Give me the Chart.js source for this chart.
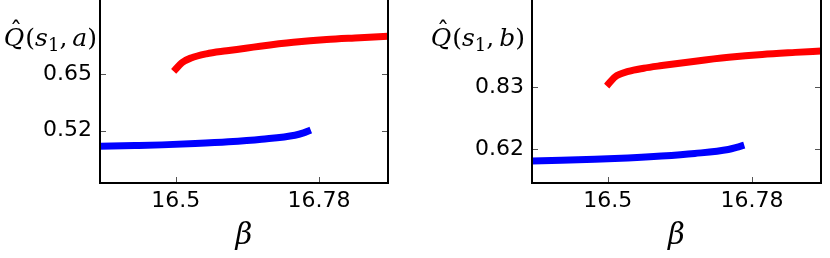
<!DOCTYPE html>
<html>
<head>
<meta charset="utf-8">
<script src="https://cdn.jsdelivr.net/npm/chart.js@4"></script>
<style>
    body { margin: 0; background: #fff; width: 830px; height: 258px; position: relative; overflow: hidden; }
    .panel { position: absolute; top: 0; width: 415px; height: 258px; }
</style>
</head>
<body>
<div class="panel" style="left:0"><canvas id="chartA" width="415" height="258"></canvas></div>
<div class="panel" style="left:415px"><canvas id="chartB" width="415" height="258"></canvas></div>
<script>
// values
const xTicks = [16.5, 16.78];
const yTicksA = [0.52, 0.65];
const yTicksB = [0.62, 0.83];

// left panel, Q(s1, a)
const betaRedA = [16.496, 16.512, 16.53, 16.56, 16.60, 16.665, 16.73, 16.795, 16.86, 16.915];
const qRedA = [0.656, 0.676, 0.687, 0.6965, 0.7035, 0.714, 0.723, 0.7295, 0.7335, 0.737];
const betaBlueA = [16.352, 16.42, 16.473, 16.538, 16.603, 16.668, 16.733, 16.75, 16.764];
const qBlueA = [0.4845, 0.486, 0.4875, 0.4905, 0.4945, 0.5005, 0.5095, 0.515, 0.5215];

// right panel, Q(s1, b)
const betaRedB = [16.498, 16.514, 16.54, 16.57, 16.605, 16.67, 16.735, 16.80, 16.864, 16.915];
const qRedB = [0.835, 0.866, 0.885, 0.896, 0.905, 0.920, 0.933, 0.943, 0.950, 0.955];
const betaBlueB = [16.353, 16.41, 16.475, 16.539, 16.604, 16.669, 16.734, 16.75, 16.765];
const qBlueB = [0.579, 0.581, 0.5845, 0.589, 0.5955, 0.6045, 0.618, 0.625, 0.633];

const toPoints = (xs, ys) => xs.map((x, i) => ({ x: x, y: ys[i] }));

// draws Q-hat(s_1, letter) as the y label, right edge at `right`
function drawQLabel(ctx, right, base, letter) {
    const size = 25;
    const it = 'italic ' + size + 'px "DejaVu Serif"';
    const up = size + 'px "DejaVu Serif"';
    const sub = Math.round(size * 0.7) + 'px "DejaVu Serif"';
    const parts = [
        { t: 'Q', f: it, dy: 0, gap: 1 },
        { t: '(', f: up, dy: 0, gap: 0 },
        { t: 's', f: it, dy: 0, gap: 0 },
        { t: '1', f: sub, dy: 5, gap: 0 },
        { t: ',', f: up, dy: 0, gap: 5 },
        { t: letter, f: it, dy: 0, gap: 0 },
        { t: ')', f: up, dy: 0, gap: 0 }
    ];
    let w = 0;
    parts.forEach(p => { ctx.font = p.f; p.w = ctx.measureText(p.t).width; w += p.w + p.gap; });
    let x = right - w;
    ctx.fillStyle = '#000';
    ctx.textBaseline = 'alphabetic';
    ctx.textAlign = 'left';
    parts.forEach((p, i) => {
        ctx.font = p.f;
        ctx.fillText(p.t, x, base + p.dy);
        if (i === 0) {
            ctx.font = up;
            ctx.textAlign = 'center';
            ctx.fillText('\u02C6', x + p.w / 2 + 2, base - 7);
            ctx.textAlign = 'left';
        }
        x += p.w + p.gap;
    });
}

// matplotlib-like spines and inward ticks
const axesPlugin = {
    id: 'axesPlugin',
    afterDatasetsDraw(chart, args, opts) {
        const ctx = chart.ctx;
        const a = chart.chartArea;
        const xs = chart.scales.x, ys = chart.scales.y;
        ctx.save();
        ctx.strokeStyle = '#555';
        ctx.lineWidth = 1;
        ctx.beginPath();
        ys.ticks.forEach(t => {
            const py = Math.round(ys.getPixelForValue(t.value)) + 0.5;
            ctx.moveTo(a.left, py); ctx.lineTo(a.left + 6, py);
            ctx.moveTo(a.right, py); ctx.lineTo(a.right - 6, py);
        });
        xs.ticks.forEach(t => {
            const px = Math.round(xs.getPixelForValue(t.value)) + 0.5;
            ctx.moveTo(px, a.bottom); ctx.lineTo(px, a.bottom - 6);
        });
        ctx.stroke();
        ctx.strokeStyle = '#000';
        ctx.lineWidth = 2;
        ctx.beginPath();
        ctx.moveTo(a.left, a.top); ctx.lineTo(a.left, a.bottom);
        ctx.lineTo(a.right, a.bottom); ctx.lineTo(a.right, a.top);
        ctx.stroke();
        drawQLabel(ctx, opts.labelRight, 46, opts.letter);
        ctx.restore();
    }
};

function makeChart(id, cfg) {
    const ctx = document.getElementById(id).getContext('2d');
    new Chart(ctx, {
        type: 'line',
        data: {
            datasets: [
                { data: toPoints(cfg.betaRed, cfg.qRed), borderColor: '#ff0000' },
                { data: toPoints(cfg.betaBlue, cfg.qBlue), borderColor: '#0000ff' }
            ]
        },
        options: {
            responsive: false,
            animation: false,
            devicePixelRatio: 1,
            layout: { padding: { top: 0, right: cfg.padRight, left: 0, bottom: 0 } },
            datasets: {
                line: { borderWidth: 7, pointRadius: 0, fill: false, cubicInterpolationMode: 'monotone', clip: 0 }
            },
            plugins: {
                legend: { display: false },
                tooltip: { enabled: false },
                axesPlugin: { letter: cfg.letter, labelRight: cfg.labelRight }
            },
            scales: {
                x: {
                    type: 'linear',
                    min: cfg.xMin,
                    max: cfg.xMax,
                    grid: { display: false, drawTicks: false },
                    border: { display: false },
                    afterBuildTicks: s => { s.ticks = xTicks.map(v => ({ value: v })); },
                    afterFit: s => { s.height = 75; s.paddingLeft = 0; s.paddingRight = 0; },
                    ticks: {
                        color: '#000',
                        padding: 5,
                        font: { family: 'DejaVu Sans', size: 22 },
                        callback: v => String(v)
                    },
                    title: {
                        display: true,
                        text: '\u03B2',
                        color: '#000',
                        padding: { top: 0, bottom: 4 },
                        font: { family: 'DejaVu Serif', style: 'italic', size: 29 }
                    }
                },
                y: {
                    min: cfg.yMin,
                    max: cfg.yMax,
                    grid: { display: false, drawTicks: false },
                    border: { display: false },
                    afterBuildTicks: s => { s.ticks = cfg.yTicks.map(v => ({ value: v })); },
                    afterFit: s => { s.width = cfg.yWidth; s.paddingTop = 0; s.paddingBottom = 0; },
                    ticks: {
                        color: '#000',
                        padding: 8,
                        font: { family: 'DejaVu Sans', size: 22 },
                        callback: v => v.toFixed(2)
                    }
                }
            }
        },
        plugins: [axesPlugin]
    });
}

makeChart('chartA', {
    betaRed: betaRedA, qRed: qRedA, betaBlue: betaBlueA, qBlue: qBlueA,
    yTicks: yTicksA, letter: 'a',
    xMin: 16.352, xMax: 16.915, yMin: 0.40, yMax: 0.82,
    yWidth: 100, padRight: 27, labelRight: 97
});

makeChart('chartB', {
    betaRed: betaRedB, qRed: qRedB, betaBlue: betaBlueB, qBlue: qBlueB,
    yTicks: yTicksB, letter: 'b',
    xMin: 16.353, xMax: 16.914, yMin: 0.5036, yMax: 1.129,
    yWidth: 117, padRight: 9, labelRight: 110
});
</script>
</body>
</html>
